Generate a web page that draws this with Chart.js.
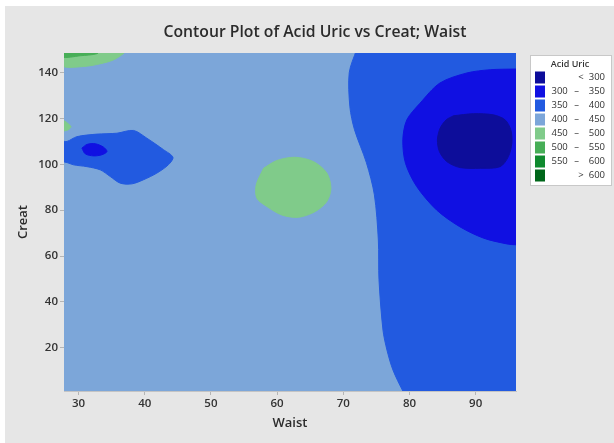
<!DOCTYPE html>
<html>
<head>
<meta charset="utf-8">
<script src="https://cdn.jsdelivr.net/npm/chart.js@4.4.1/dist/chart.umd.min.js"></script>
<style>
  body { margin: 0; background: #ffffff; }
  canvas { display: block; }
</style>
</head>
<body>
<canvas id="contourChart" width="614" height="443"></canvas>
<script>
// Axis ranges and ticks (Waist on x, Creat on y)
var waistRange = [27.8, 96.1];
var creatRange = [1.1, 148.6];
var waistTicks = [30, 40, 50, 60, 70, 80, 90];
var creatTicks = [20, 40, 60, 80, 100, 120, 140];

// Acid Uric bands for the legend
var bandLabels = [['<', '300'], ['300', '350'], ['350', '400'], ['400', '450'],
                  ['450', '500'], ['500', '550'], ['550', '600'], ['>', '600']];
var bandColors = ['#0d0d9a', '#1010e2', '#225ae0', '#7ca6d9',
                  '#80cb8a', '#47ae57', '#0f8a2e', '#00661a'];

// Contour regions, as [waist, creat] points
var regionBase = [[27.8, 1.1], [96.1, 1.1], [96.1, 148.6], [27.8, 148.6]];
var regionRight350 = [[72.0, 150], [70.9, 140], [71.0, 125.1], [71.7, 115.1], [73.5, 100.7],
                      [74.7, 86.7], [75.3, 67], [75.4, 49.6], [76.0, 27.7], [76.6, 19],
                      [77.5, 10.3], [79.0, 1.1], [79.3, 0], [100, 0], [100, 150]];
var regionRight300 = [[100, 141.8], [96.1, 141.6], [92.2, 141.3], [88.7, 139.9], [84.6, 135.5],
                      [81.6, 126.7], [79.6, 119.4], [79.0, 110.7], [79.4, 100.5], [81.1, 90.3],
                      [84.1, 80.1], [87.6, 72.8], [91.2, 67.8], [94.7, 65.3], [96.1, 64.9], [100, 64.7]];
var regionRightLow = [[86.65, 121.2], [89.67, 122.1], [92.69, 121.6], [94.46, 119.4], [95.32, 115.0],
                      [95.47, 109.3], [94.95, 103.4], [93.70, 99.0], [90.68, 98.3], [87.66, 98.6],
                      [85.65, 101.2], [84.53, 105.6], [84.23, 110.7], [84.64, 115.8], [85.54, 119.4],
                      [86.65, 121.2]];
var regionLeft350 = [[27.5, 110.2], [28.25, 110.0], [29.76, 112.1], [32.78, 113.2], [35.80, 113.6],
                     [38.31, 114.8], [40.33, 111.4], [42.84, 106.4], [44.26, 103.1], [43.60, 99.9],
                     [41.84, 96.2], [39.82, 93.3], [38.07, 91.5], [36.30, 91.8], [34.79, 94.7],
                     [33.28, 97.6], [31.27, 99.0], [29.24, 99.8], [28.25, 100.8], [27.5, 101.2]];
var regionLeft300 = [[30.51, 107.1], [31.27, 108.7], [32.52, 109.0], [33.78, 107.5], [34.29, 105.6],
                     [33.53, 104.2], [32.27, 103.7], [31.01, 104.6], [30.51, 107.1]];
var regionMid450 = [[57.95, 98.3], [59.97, 101.7], [62.73, 103.1], [65.50, 101.2], [67.52, 96.2],
                    [68.13, 89.6], [67.52, 83.8], [65.76, 79.4], [63.23, 76.9], [60.72, 77.9],
                    [58.46, 81.6], [56.95, 85.2], [56.84, 91.0], [57.95, 98.3]];
var regionTop450 = [[27.5, 150], [27.5, 143.0], [30.76, 142.7], [33.28, 143.9], [35.29, 145.6],
                    [36.9, 148.6], [37.3, 150]];
var regionTop500 = [[27.5, 150], [27.5, 146.8], [30.26, 147.4], [32.78, 148.3], [33.3, 150]];
var regionEdge450 = [[27.5, 119.3], [27.84, 119.0], [28.45, 117.7], [28.85, 116.4], [28.45, 115.1],
                     [27.84, 114.6], [27.5, 114.5]];

// bottom to top drawing order, with the band each region belongs to
var regions = [
  [regionBase, 3], [regionRight350, 2], [regionRight300, 1], [regionRightLow, 0],
  [regionLeft350, 2], [regionLeft300, 1], [regionMid450, 4],
  [regionTop450, 4], [regionTop500, 5], [regionEdge450, 4]
];

Chart.defaults.font.family = '"Open Sans", "Noto Sans", sans-serif';
Chart.defaults.color = '#333333';

var datasets = regions.map(function (r, i) {
  return {
    data: r[0].map(function (p) { return { x: p[0], y: p[1] }; }),
    showLine: true,
    fill: 'shape',
    backgroundColor: bandColors[r[1]],
    borderColor: bandColors[r[1]],
    borderWidth: 1,
    pointRadius: 0,
    tension: i === 0 ? 0 : 0.3,
    order: regions.length - i
  };
});

// grey panel, title and the Acid Uric legend box
var decorPlugin = {
  id: 'decor',
  beforeDraw: function (chart) {
    var ctx = chart.ctx;
    ctx.save();
    ctx.fillStyle = '#e6e6e6';
    ctx.fillRect(5, 6, chart.width - 5, chart.height - 6);
    ctx.restore();
  },
  afterDraw: function (chart) {
    var ctx = chart.ctx;
    ctx.save();
    ctx.fillStyle = '#2b2b2b';
    ctx.font = '600 16px "Open Sans"';
    ctx.textAlign = 'center';
    ctx.textBaseline = 'middle';
    ctx.fillText('Contour Plot of Acid Uric vs Creat; Waist', 315, 32, 303);

    // legend box
    ctx.fillStyle = '#ffffff';
    ctx.fillRect(530.5, 55.5, 81, 130);
    ctx.strokeStyle = '#c8c8c8';
    ctx.lineWidth = 1;
    ctx.strokeRect(530.5, 55.5, 81, 130);
    ctx.fillStyle = '#333333';
    ctx.font = '600 9px "Open Sans"';
    ctx.fillText('Acid Uric', 570, 64);
    ctx.font = '9.5px "Open Sans"';
    bandLabels.forEach(function (lab, i) {
      var y = 77.5 + i * 14;
      ctx.fillStyle = bandColors[i];
      ctx.fillRect(535, y - 6, 10, 12);
      ctx.fillStyle = '#333333';
      ctx.textAlign = 'right';
      ctx.fillText(lab[1], 605, y);
      ctx.textAlign = 'center';
      if (lab[0] === '<' || lab[0] === '>') {
        ctx.fillText(lab[0], 581, y);
      } else {
        ctx.fillText('\u2013', 576.5, y);
        ctx.textAlign = 'left';
        ctx.fillText(lab[0], 551.5, y);
      }
    });
    ctx.restore();
  }
};

var ctx = document.getElementById('contourChart').getContext('2d');
var contourChart = new Chart(ctx, {
  type: 'scatter',
  data: { datasets: datasets },
  options: {
    responsive: false,
    animation: false,
    devicePixelRatio: 1,
    layout: { padding: { left: 0, right: 98, top: 53, bottom: 0 } },
    plugins: {
      legend: { display: false },
      tooltip: { enabled: false },
      title: { display: false }
    },
    scales: {
      x: {
        type: 'linear',
        min: waistRange[0],
        max: waistRange[1],
        afterBuildTicks: function (axis) {
          axis.ticks = waistTicks.map(function (v) { return { value: v }; });
        },
        afterFit: function (axis) { axis.height = 52; },
        grid: { drawOnChartArea: false, drawTicks: true, tickLength: 4, color: '#b5b5b5' },
        border: { color: '#c4c4c4' },
        ticks: { font: { size: 11.5, weight: '600' }, color: '#333333', padding: 2, maxRotation: 0 },
        title: { display: true, text: 'Waist', font: { size: 13, weight: '600' }, color: '#2b2b2b', padding: { top: 0, bottom: 12 } }
      },
      y: {
        type: 'linear',
        min: creatRange[0],
        max: creatRange[1],
        afterBuildTicks: function (axis) {
          axis.ticks = creatTicks.map(function (v) { return { value: v }; });
        },
        afterFit: function (axis) { axis.width = 64; },
        grid: { drawOnChartArea: false, drawTicks: true, tickLength: 4, color: '#b5b5b5' },
        border: { color: '#c4c4c4' },
        ticks: { font: { size: 11.5, weight: '600' }, color: '#333333', padding: 2 },
        title: { display: true, text: 'Creat', font: { size: 13, weight: '600' }, color: '#2b2b2b', padding: { top: 15, bottom: 0 } }
      }
    }
  },
  plugins: [decorPlugin]
});
</script>
</body>
</html>
